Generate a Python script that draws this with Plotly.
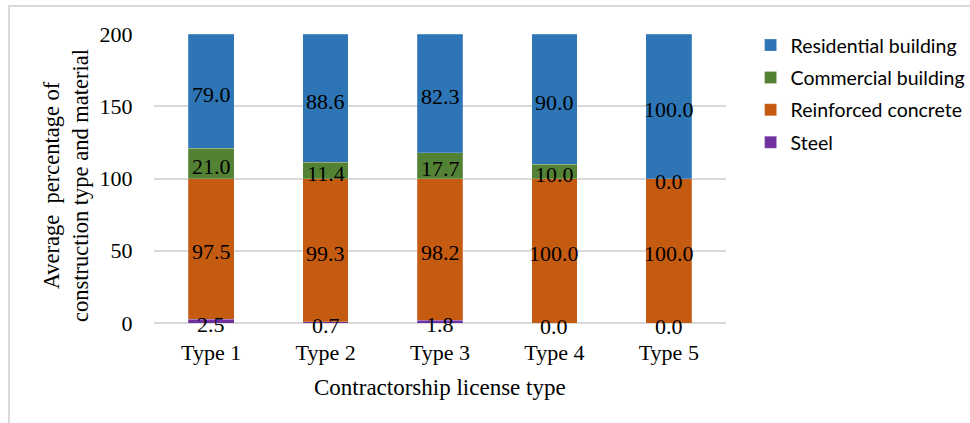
import plotly.graph_objects as go

# Categories and stacked series (percent)
license_types = ["Type 1", "Type 2", "Type 3", "Type 4", "Type 5"]
steel = [2.5, 0.7, 1.8, 0.0, 0.0]
reinforced_concrete = [97.5, 99.3, 98.2, 100.0, 100.0]
commercial_building = [21.0, 11.4, 17.7, 10.0, 0.0]
residential_building = [79.0, 88.6, 82.3, 90.0, 100.0]

y_ticks = [0, 50, 100, 150, 200]

# (name, values, colour, legend rank) - stacked bottom to top
series = [
    ("Steel", steel, "#7030A0", 4),
    ("Reinforced concrete", reinforced_concrete, "#C55A11", 3),
    ("Commercial building", commercial_building, "#548235", 2),
    ("Residential building", residential_building, "#2E75B6", 1),
]

SERIF = "Liberation Serif, Times New Roman, serif"

fig = go.Figure()

base = [0.0] * len(license_types)
value_labels = []
for name, vals, color, rank in series:
    fig.add_trace(go.Bar(
        x=license_types, y=vals, name=name, legendgroup=name, legendrank=rank,
        marker=dict(color=color, line=dict(width=0.6, color="rgba(255,255,255,0.35)")),
        width=0.4,
    ))
    # value label centred on each segment
    for i, v in enumerate(vals):
        value_labels.append(dict(
            x=license_types[i], y=base[i] + v / 2, xref="x", yref="y",
            text=f"{v:.1f}", showarrow=False, yshift=-3,
            xanchor="center", yanchor="middle",
            font=dict(family=SERIF, size=22, color="black"),
        ))
        base[i] += v

fig.update_layout(
    width=970, height=423,
    barmode="stack",
    paper_bgcolor="white", plot_bgcolor="white",
    margin=dict(l=154, r=244, t=34, b=100, autoexpand=False),
    font=dict(family=SERIF, size=22, color="black"),
    legend=dict(
        x=1.043, y=1.028, xanchor="left", yanchor="top",
        traceorder="grouped", tracegroupgap=4,
        font=dict(family="Lato, Carlito, Calibri, sans-serif", size=19.5, color="black"),
        bgcolor="rgba(0,0,0,0)",
    ),
    xaxis=dict(
        showgrid=False, showline=False, ticks="",
        tickfont=dict(family=SERIF, size=22),
        ticklabelstandoff=14,
    ),
    yaxis=dict(
        range=[0, 200], tickvals=y_ticks,
        showgrid=True, gridcolor="#D9D9D9", gridwidth=1.5,
        zeroline=True, zerolinecolor="#D9D9D9", zerolinewidth=1.5,
        showline=False, ticks="outside", ticklen=16, tickcolor="rgba(0,0,0,0)",
        tickfont=dict(family=SERIF, size=22),
    ),
    annotations=value_labels + [
        dict(text="Contractorship license type", xref="paper", yref="paper",
             x=0.5, y=-0.222, xanchor="center", yanchor="middle", showarrow=False,
             font=dict(family=SERIF, size=23)),
        dict(text="Average  percentage of<br>construction type and material",
             xref="paper", yref="paper", x=-0.155, y=0.475, textangle=-90,
             xanchor="center", yanchor="middle", showarrow=False,
             font=dict(family=SERIF, size=22.5)),
    ],
    shapes=[dict(
        type="rect", xref="paper", yref="paper",
        x0=-0.2535, x1=1.45, y0=-0.40, y1=1.0969,
        line=dict(color="#D9D9D9", width=2), fillcolor="rgba(0,0,0,0)",
        layer="below",
    )],
)

fig.write_html("out.html")
